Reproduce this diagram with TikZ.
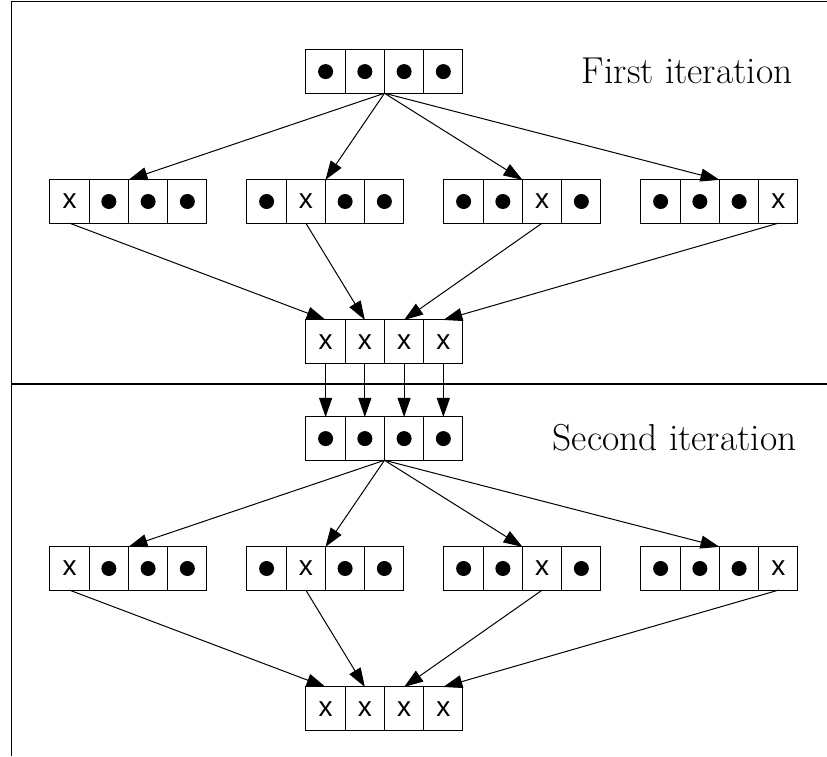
\documentclass[tikz,border=0pt]{standalone}
\usepackage{fontspec}
\newfontfamily\markfont{Liberation Sans}
\usetikzlibrary{positioning,arrows.meta}

\begin{document}
\begin{tikzpicture}[x=1pt, y=-1pt, >={Triangle[length=19pt,width=13pt]}, line width=1pt,
  cell/.style={draw, rectangle, minimum width=39.25pt, minimum height=43.3pt, inner sep=0pt, outer sep=0pt},
  dotcell/.style={cell, path picture={\fill (path picture bounding box.center) circle (7.5pt);}},
  crosscell/.style={cell, font=\markfont\fontsize{28}{28}\selectfont},
  itertext/.style={font=\fontsize{37.5}{44}\selectfont, anchor=base east, inner sep=0pt}]
\useasboundingbox (0,0) rectangle (827,756);

% Rahmen
\draw (11,756) -- (11,1) -- (827,1);
\draw[line width=2pt] (11,384) -- (827,384);

% Beschriftung
\node[itertext] (first) at (793,83) {First iteration};
\node[itertext] (second) at (797,450) {Second iteration};

% zwei Iterationen, um 367 nach unten versetzt
\foreach \it/\dy in {1/0, 2/367}{
  % Ausgangszustand
  \foreach \k in {1,...,4}
    \node[dotcell] (t\it\k) at ({325.6+(\k-1)*39.25}, {71.6+\dy}) {};
  % Zwischenzustaende: im j-ten Kasten ist Feld j gekreuzt
  \foreach \j in {1,...,4}
    \foreach \k in {1,...,4}{
      \ifnum\j=\k
        \node[crosscell] (m\it\j\k) at ({69.6+(\j-1)*197+(\k-1)*39.25}, {201.5+\dy}) {x};
      \else
        \node[dotcell] (m\it\j\k) at ({69.6+(\j-1)*197+(\k-1)*39.25}, {201.5+\dy}) {};
      \fi
    }
  % Endzustand
  \foreach \k in {1,...,4}
    \node[crosscell] (b\it\k) at ({325.6+(\k-1)*39.25}, {341.6+\dy}) {x};
  % Pfeile
  \foreach \j in {1,...,4}{
    \draw[->] (t\it2.south east) -- (m\it\j2.north east);
    \draw[->] (m\it\j\j.south) -- (b\it\j.north);
  }
}

% Uebergang zur zweiten Iteration
\foreach \k in {1,...,4}
  \draw[->] (b1\k.south) -- (t2\k.north);
\end{tikzpicture}
\end{document}
